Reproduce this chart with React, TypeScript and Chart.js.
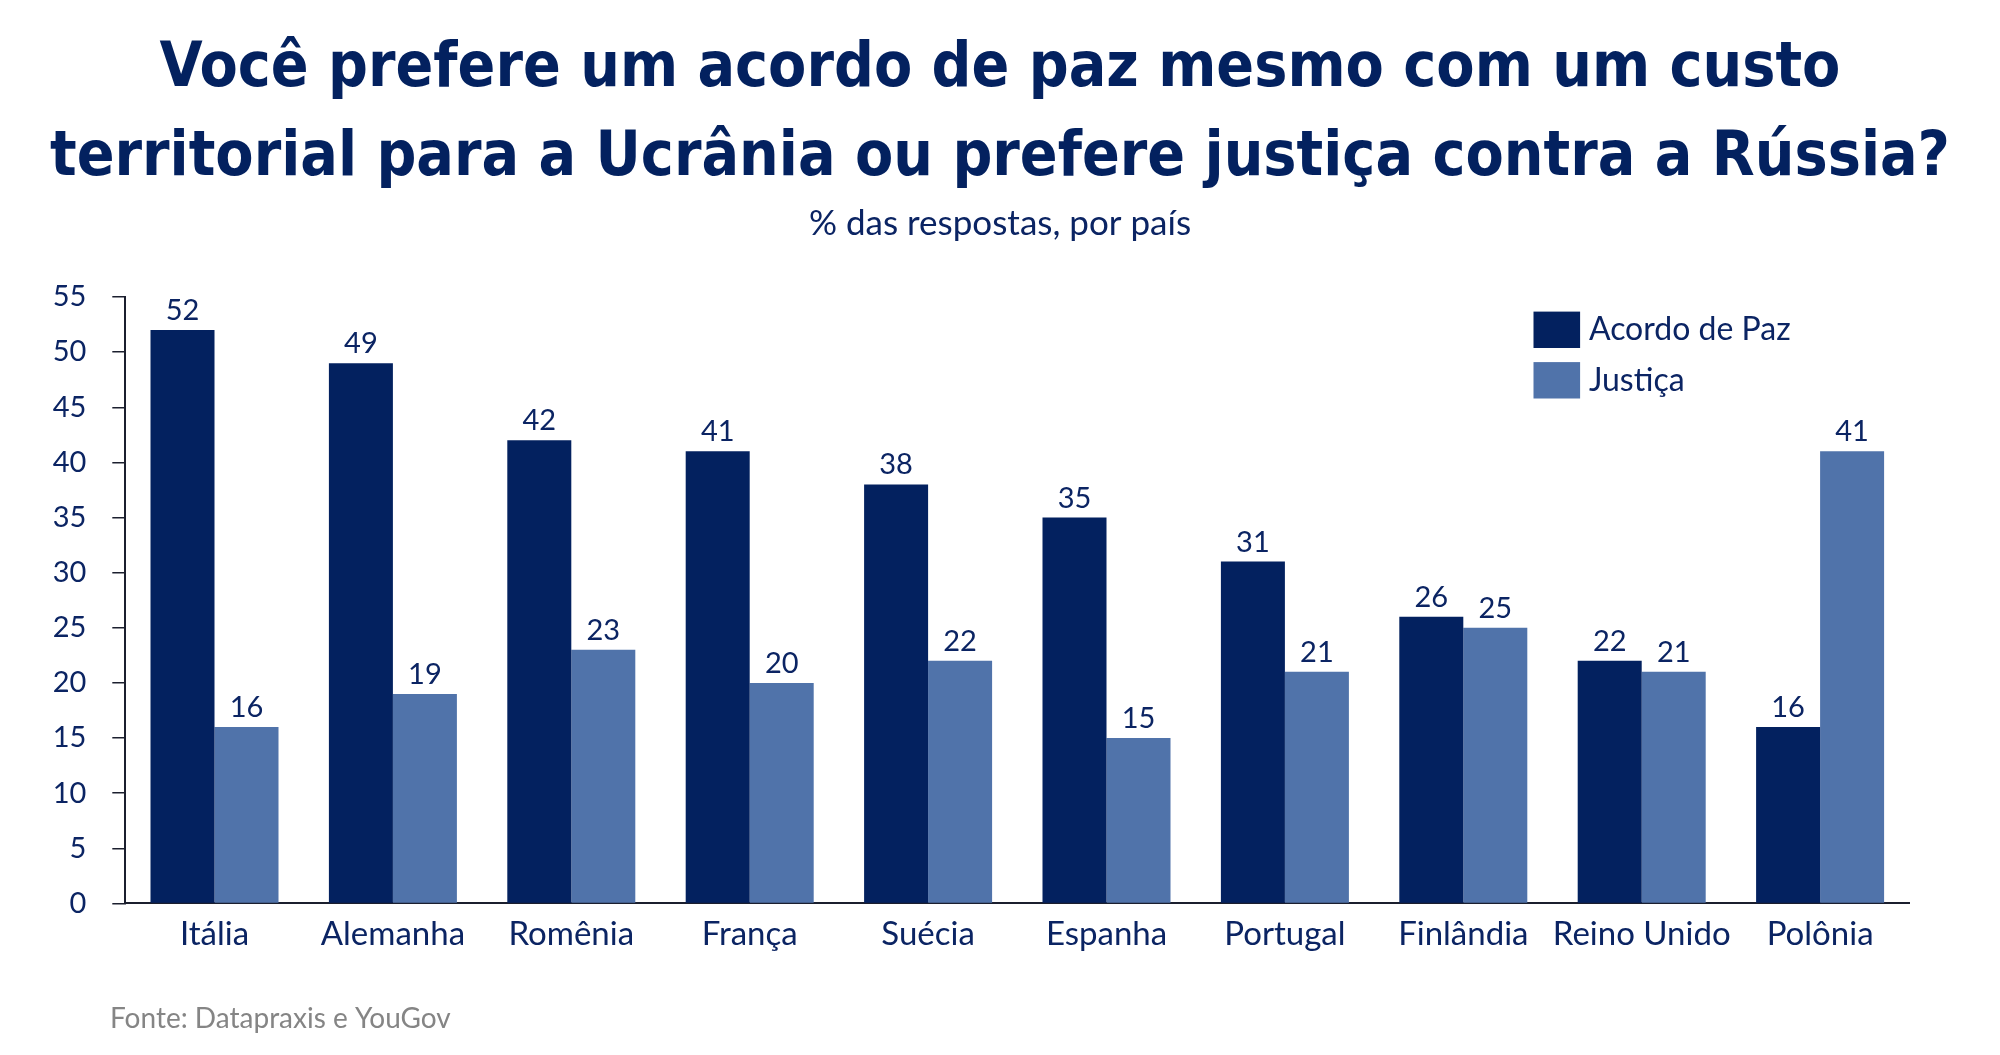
import React, { useEffect, useRef } from "react";
import { Chart, registerables } from "chart.js";

Chart.register(...registerables);

const TITLE_LINES = [
  "Você prefere um acordo de paz mesmo com um custo",
  "territorial para a Ucrânia ou prefere justiça contra a Rússia?",
];
const SUBTITLE = "% das respostas, por país";
const SOURCE = "Fonte: Datapraxis e YouGov";

const COUNTRIES = [
  "Itália",
  "Alemanha",
  "Romênia",
  "França",
  "Suécia",
  "Espanha",
  "Portugal",
  "Finlândia",
  "Reino Unido",
  "Polônia",
];
const SERIES_NAMES = ["Acordo de Paz", "Justiça"];
const PEACE = [52, 49, 42, 41, 38, 35, 31, 26, 22, 16];
const JUSTICE = [16, 19, 23, 20, 22, 15, 21, 25, 21, 41];
const Y_MIN = 0;
const Y_MAX = 55;
const Y_STEP = 5;

const DARK = "#03215f";
const LIGHT = "#5073aa";
const TEXT = "#0b2463";
const AXIS = "#1b1f2e";
const GREY = "#858585";

const BODY_FONT = "Lato, 'Noto Sans', sans-serif";
const TITLE_FONT = "'DejaVu Sans Condensed', 'Liberation Sans Narrow', Lato, sans-serif";

const valueLabels = {
  id: "valueLabels",
  afterDatasetsDraw(chart: any) {
    const ctx = chart.ctx;
    ctx.save();
    ctx.fillStyle = TEXT;
    ctx.font = `29px ${BODY_FONT}`;
    ctx.textAlign = "center";
    ctx.textBaseline = "alphabetic";
    chart.data.datasets.forEach((ds: any, di: number) => {
      const meta = chart.getDatasetMeta(di);
      meta.data.forEach((el: any, i: number) => {
        ctx.fillText(String(ds.data[i]), el.x, el.y - 10);
      });
    });
    ctx.restore();
  },
};

const boxLegend = {
  id: "boxLegend",
  afterDraw(chart: any) {
    const ctx = chart.ctx;
    ctx.save();
    const x0 = 1525.5;
    const y0 = 303.6;
    const bw = 46.6;
    const bh = 36.4;
    const gap = 50.5;
    ctx.font = `32px ${BODY_FONT}`;
    ctx.textAlign = "left";
    ctx.textBaseline = "alphabetic";
    chart.data.datasets.forEach((ds: any, i: number) => {
      const y = y0 + i * gap;
      ctx.fillStyle = ds.backgroundColor;
      ctx.fillRect(x0, y, bw, bh);
      ctx.fillStyle = TEXT;
      ctx.fillText(ds.label, x0 + bw + 8.8, y + bh / 2 + 10.5);
    });
    ctx.restore();
  },
};

const sourceNote = {
  id: "sourceNote",
  afterDraw(chart: any) {
    const ctx = chart.ctx;
    ctx.save();
    ctx.fillStyle = GREY;
    ctx.font = `28px ${BODY_FONT}`;
    ctx.textAlign = "left";
    ctx.textBaseline = "alphabetic";
    ctx.fillText(SOURCE, 102, 1020.3);
    ctx.restore();
  },
};

export default function App() {
  const ref = useRef<HTMLCanvasElement | null>(null);

  useEffect(() => {
    if (!ref.current) return;
    const m = document.createElement("canvas").getContext("2d") as CanvasRenderingContext2D;
    m.font = `bold 100px ${TITLE_FONT}`;
    const widest = Math.max(...TITLE_LINES.map((l) => m.measureText(l).width));
    const titleSize = Math.min(74, (100 * 1900) / widest);

    const chart = new Chart(ref.current, {
      type: "bar",
      data: {
        labels: COUNTRIES,
        datasets: [
          { label: SERIES_NAMES[0], data: PEACE, backgroundColor: DARK, borderWidth: 0 },
          { label: SERIES_NAMES[1], data: JUSTICE, backgroundColor: LIGHT, borderWidth: 0 },
        ],
      },
      options: {
        animation: false,
        responsive: true,
        maintainAspectRatio: false,
        devicePixelRatio: 1,
        datasets: { bar: { categoryPercentage: 0.7175, barPercentage: 1 } },
        layout: { padding: { top: 0, left: 0, right: 0, bottom: 93 } },
        plugins: {
          legend: { display: false },
          tooltip: { enabled: false },
          title: {
            display: true,
            text: TITLE_LINES,
            color: DARK,
            font: { family: TITLE_FONT, size: titleSize, weight: "bold", lineHeight: 88.3 / titleSize },
            padding: { top: 18, bottom: 0 },
          },
          subtitle: {
            display: true,
            text: SUBTITLE,
            color: TEXT,
            font: { family: BODY_FONT, size: 35, weight: "normal", lineHeight: 1.2 },
            padding: { top: 0, bottom: 52.4 },
          },
        },
        scales: {
          x: {
            grid: { display: false, drawTicks: false },
            border: { display: true, color: AXIS, width: 2 },
            ticks: { color: TEXT, font: { family: BODY_FONT, size: 33 }, padding: 11, maxRotation: 0, autoSkip: false },
            afterFit: (s: any) => {
              s.height = 50.6;
            },
          },
          y: {
            min: Y_MIN,
            max: Y_MAX,
            ticks: { stepSize: Y_STEP, color: TEXT, font: { family: BODY_FONT, size: 29 }, padding: 26 },
            grid: { display: true, drawOnChartArea: false, drawTicks: true, tickLength: 13, color: AXIS, lineWidth: 1.5 },
            border: { display: true, color: AXIS, width: 2 },
            afterFit: (s: any) => {
              s.width = 117.3;
            },
          },
          rightGap: {
            type: "linear",
            position: "right",
            display: true,
            ticks: { display: false },
            grid: { display: false, drawTicks: false },
            border: { display: false },
            afterFit: (s: any) => {
              s.width = 82.7;
            },
          },
        },
      },
      plugins: [valueLabels, boxLegend, sourceNote],
    });
    return () => chart.destroy();
  }, []);

  return (
    <div style={{ position: "relative", width: "1984px", height: "1039px" }}>
      <canvas ref={ref} />
    </div>
  );
}
